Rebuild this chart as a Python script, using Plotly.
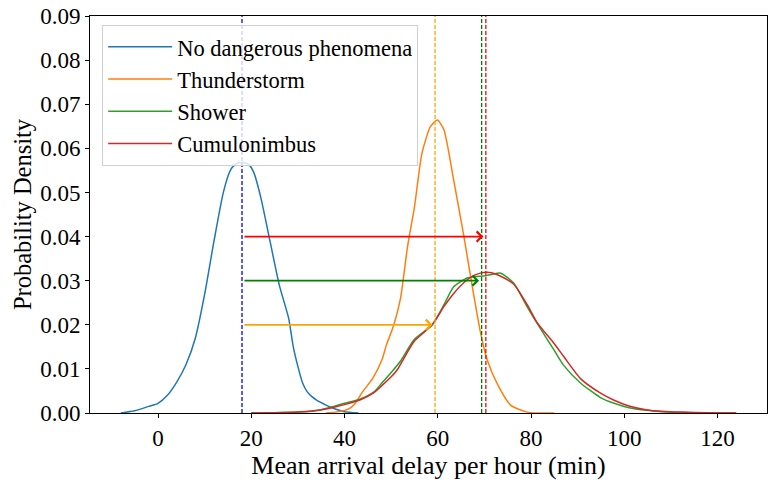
import plotly.graph_objects as go

# ---- data ----
names = ["No dangerous phenomena", "Thunderstorm", "Shower", "Cumulonimbus"]
colors = ["#1f77b4", "#ff7f0e", "#2ca02c", "#d62728"]

x_none = [-8, -5, -2, 0, 2, 4, 6, 8, 10, 12, 14, 15.5, 16.5, 17.3, 18, 18.7, 19.5, 20.5, 22, 24, 26, 28, 29, 30, 31, 32, 33, 34, 36, 38, 40, 43]
y_none = [0.0, 0.0005, 0.0015, 0.0022, 0.004, 0.007, 0.011, 0.017, 0.027, 0.039, 0.050, 0.0550, 0.0563, 0.0567, 0.0568, 0.0567, 0.0563, 0.0546, 0.049, 0.039, 0.029, 0.0215, 0.015, 0.0105, 0.0068, 0.0048, 0.0037, 0.0029, 0.0018, 0.0009, 0.0003, 0.0]

x_thun = [36, 38, 40, 41, 42, 44, 46, 48, 49, 50.5, 52, 53.5, 55, 56.6, 58.4, 59.9, 61.3, 63.4, 65.6, 67.4, 69.2, 70.6, 72.7, 75.6, 79.2, 85]
y_thun = [0.0, 0.0002, 0.0006, 0.001, 0.0018, 0.005, 0.0078, 0.012, 0.0155, 0.0198, 0.026, 0.0377, 0.0468, 0.0589, 0.0649, 0.0664, 0.0642, 0.0528, 0.040, 0.0286, 0.018, 0.012, 0.0067, 0.0018, 0.0002, 0.0]

x_show = [20, 25, 30, 34.8, 37.7, 40, 43.4, 46.3, 48, 50, 52, 54.9, 58.8, 61.3, 63.4, 66.3, 68, 70.2, 71.5, 73.5, 76.3, 79.2, 81.3, 84.9, 87, 90.6, 94.9, 97.8, 101, 104.9, 108, 112, 118, 124]
y_show = [0.0, 0.00005, 0.0002, 0.0007, 0.0015, 0.0022, 0.0032, 0.0048, 0.0068, 0.0092, 0.0118, 0.0166, 0.020, 0.0245, 0.0286, 0.0306, 0.0309, 0.0311, 0.0314, 0.0317, 0.0294, 0.024, 0.0203, 0.0143, 0.0108, 0.0068, 0.0035, 0.0022, 0.0012, 0.0006, 0.0003, 0.0001, 0.00002, 0.0]

x_cumu = [20, 25, 30, 34.8, 37.7, 40, 43.4, 46.3, 48, 50, 51.3, 54.9, 58.8, 61.3, 63.4, 66.3, 68, 70.2, 71.5, 73.5, 76.3, 79.2, 81.3, 84.9, 87, 90.6, 94.9, 97.8, 101, 104.9, 108, 112, 118, 124]
y_cumu = [0.0, 0.00005, 0.0002, 0.0007, 0.0013, 0.0019, 0.0030, 0.0046, 0.0062, 0.0082, 0.0098, 0.0162, 0.020, 0.0241, 0.0271, 0.0302, 0.0313, 0.0319, 0.0318, 0.031, 0.0292, 0.0245, 0.0205, 0.0158, 0.0128, 0.0078, 0.0045, 0.0029, 0.0016, 0.0007, 0.0004, 0.0002, 0.00003, 0.0]

means = [18.0, 59.4, 69.4, 70.3]
mean_colors = ["blue", "orange", "green", "red"]
arrow_heights = [None, 0.02, 0.03, 0.04]

xs = [x_none, x_thun, x_show, x_cumu]
ys = [y_none, y_thun, y_show, y_cumu]

fig = go.Figure()

for x, y, n, c in zip(xs, ys, names, colors):
    fig.add_trace(go.Scatter(x=x, y=y, mode="lines", name=n,
                             line=dict(color=c, width=1.5, shape="spline", smoothing=0.6)))

for m, c in zip(means, mean_colors):
    fig.add_trace(go.Scatter(x=[m, m], y=[0, 0.09], mode="lines", showlegend=False,
                             line=dict(color=c, width=1.3, dash="4px,2px"), hoverinfo="skip"))

for m, c, h in zip(means[1:], mean_colors[1:], arrow_heights[1:]):
    fig.add_annotation(x=m, y=h, ax=means[0], ay=h, xref="x", yref="y", axref="x", ayref="y",
                       text="", showarrow=True, arrowhead=4, arrowsize=1.1, arrowwidth=1.8,
                       arrowcolor=c, standoff=2.5, startstandoff=1)

font_family = "Liberation Serif"
fig.update_layout(
    width=769, height=487,
    margin=dict(l=90, r=2, t=16, b=74),
    paper_bgcolor="white", plot_bgcolor="white",
    font=dict(family=font_family, size=22, color="black"),
    showlegend=True,
    legend=dict(x=0.018, y=0.978, xanchor="left", yanchor="top",
                bgcolor="rgba(255,255,255,0.8)", bordercolor="#d0d0d0", borderwidth=1,
                font=dict(family=font_family, size=22.5), itemwidth=64),
    xaxis=dict(range=[-14.6, 130.6], tickvals=[0, 20, 40, 60, 80, 100, 120],
               showgrid=False, zeroline=False, showline=True, linecolor="black", linewidth=1,
               mirror=True, ticks="outside", ticklen=4, tickcolor="black",
               tickfont=dict(size=23),
               title=dict(text="Mean arrival delay per hour (min)", font=dict(size=26), standoff=4)),
    yaxis=dict(range=[0, 0.09], tickvals=[0, 0.01, 0.02, 0.03, 0.04, 0.05, 0.06, 0.07, 0.08, 0.09],
               tickformat=".2f",
               showgrid=False, zeroline=False, showline=True, linecolor="black", linewidth=1,
               mirror=True, ticks="outside", ticklen=4, tickcolor="black",
               tickfont=dict(size=23),
               title=dict(text="Probability Density", font=dict(size=24.5), standoff=1)),
)

fig.write_html("out.html")
